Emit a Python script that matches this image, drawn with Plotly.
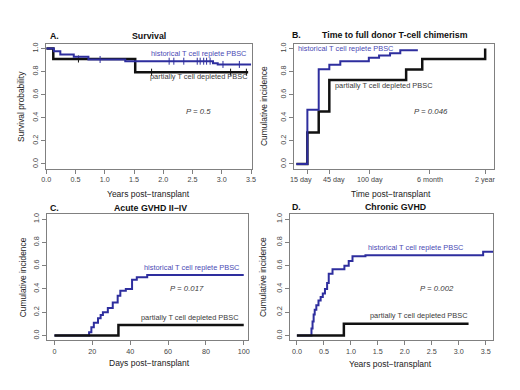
import plotly.graph_objects as go

W, H = 520, 390
FONT = "Liberation Sans, Arial, sans-serif"
BLUE = "#2e2e9e"
BLUE_TXT = "#4a4ab4"
BLACK = "#111111"
GRAY_TXT = "#3a3a3a"
FRAME = "#808080"
TICK_TXT = "#444444"

# ---------------- Data ----------------
# A. Survival (years, survival probability)
a_blue_t = [0, 0.13, 0.24, 0.47, 0.72, 1.35, 2.85, 2.93, 3.5]
a_blue_s = [1.0, 0.977, 0.948, 0.928, 0.905, 0.89, 0.872, 0.862, 0.862]
a_blue_cens = [0.92, 2.1, 2.18, 2.35, 2.58, 2.63, 2.69, 2.74, 2.8, 3.02, 3.3]
a_black_t = [0, 0.12, 1.52, 3.45]
a_black_s = [1.0, 0.909, 0.795, 0.795]
a_black_cens = [0.55, 1.8, 3.15, 3.42]

# B. Time to full donor T-cell chimerism (display days, cumulative incidence)
b_blue_t = [0, 15, 30.5, 45, 60, 99, 113, 128, 142, 166]
b_blue_s = [0, 0.47, 0.82, 0.86, 0.89, 0.92, 0.94, 0.96, 0.985, 0.985]
b_black_t = [0, 15, 30.5, 45, 150, 172, 258]
b_black_s = [0, 0.273, 0.455, 0.727, 0.818, 0.909, 1.0]
b_tickvals = [15, 45, 100, 182.5, 258]
b_ticktext = ["15 day", "45 day", "100 day", "6 month", "2 year"]
b_label_shift = [-6, 5, 0, 0, 0]

# C. Acute GVHD II-IV (days, cumulative incidence)
c_blue_t = [0, 18.3, 19.5, 20.8, 23, 24.4, 25.6, 28.2, 30.8, 33.4, 34.8, 37.7, 41.0, 43.5, 49, 100]
c_blue_s = [0, 0.028, 0.07, 0.11, 0.147, 0.176, 0.2, 0.236, 0.284, 0.341, 0.384, 0.4, 0.478, 0.5, 0.52, 0.52]
c_black_t = [0, 33.8, 100]
c_black_s = [0, 0.091, 0.091]

# D. Chronic GVHD (years, cumulative incidence)
d_blue_t = [0, 0.27, 0.29, 0.31, 0.33, 0.36, 0.40, 0.44, 0.48, 0.52, 0.56, 0.59, 0.66,
            0.88, 0.96, 1.03, 1.27, 3.45, 3.65]
d_blue_s = [0, 0.06, 0.12, 0.18, 0.22, 0.26, 0.30, 0.33, 0.36, 0.40, 0.45, 0.53, 0.57,
            0.60, 0.64, 0.68, 0.69, 0.72, 0.72]
d_black_t = [0, 0.87, 3.18]
d_black_s = [0, 0.1, 0.1]

LAB_BLUE = "historical T cell replete PBSC"
LAB_BLACK = "partially T cell depleted PBSC"


def step_at(ts, ss, t):
    v = ss[0]
    for ti, si in zip(ts, ss):
        if ti <= t:
            v = si
    return v


fig = go.Figure()


def line(t, s, color, width, ax):
    fig.add_trace(go.Scatter(x=t, y=s, mode="lines", line=dict(color=color, width=width, shape="hv"),
                             xaxis="x" + ax, yaxis="y" + ax, showlegend=False, hoverinfo="skip"))


def cens(ts, ss, cts, color, ax):
    fig.add_trace(go.Scatter(x=cts, y=[step_at(ts, ss, c) for c in cts], mode="markers",
                             marker=dict(symbol="line-ns", size=5, line=dict(color=color, width=1)),
                             xaxis="x" + ax, yaxis="y" + ax, showlegend=False, hoverinfo="skip"))


# A
line(a_black_t, a_black_s, BLACK, 2.5, "")
cens(a_black_t, a_black_s, a_black_cens, BLACK, "")
line(a_blue_t, a_blue_s, BLUE, 2, "")
cens(a_blue_t, a_blue_s, a_blue_cens, BLUE, "")
# B
line(b_black_t, b_black_s, BLACK, 2.5, "2")
line(b_blue_t, b_blue_s, BLUE, 2, "2")
# C
line(c_blue_t, c_blue_s, BLUE, 2, "3")
line(c_black_t, c_black_s, BLACK, 2.5, "3")
# D
line(d_blue_t, d_blue_s, BLUE, 2, "4")
line(d_black_t, d_black_s, BLACK, 2.5, "4")


def dom_x(a, b):
    return [a / W, b / W]


def dom_y(top, bot):
    return [1 - bot / H, 1 - top / H]


TICKFONT = dict(family=FONT, size=7.2, color=TICK_TXT)
common = dict(showline=True, mirror=True, linecolor=FRAME, linewidth=1, showgrid=False, zeroline=False,
              ticks="outside", ticklen=4, tickcolor=FRAME, tickwidth=1,
              tickfont=TICKFONT, fixedrange=True)
yticks = dict(tickvals=[0, 0.2, 0.4, 0.6, 0.8, 1.0], ticktext=["0.0", "0.2", "0.4", "0.6", "0.8", "1.0"],
              tickangle=-90, range=[-0.04, 1.04])

yr = [0, 0.5, 1.0, 1.5, 2.0, 2.5, 3.0, 3.5]
yr_txt = ["%.1f" % v for v in yr]

fig.update_layout(
    width=W, height=H, margin=dict(l=0, r=0, t=0, b=0),
    paper_bgcolor="white", plot_bgcolor="white",
    xaxis=dict(domain=dom_x(42, 251), range=[0, 3.51], tickvals=yr, ticktext=yr_txt, anchor="y",
               tickangle=0, **common),
    yaxis=dict(domain=dom_y(43, 168), anchor="x", **yticks, **common),
    xaxis2=dict(domain=dom_x(294, 498), range=[-3.4, 270.6], tickvals=b_tickvals, showticklabels=False,
                anchor="y2", **common),
    yaxis2=dict(domain=dom_y(43, 168), anchor="x2", **yticks, **common),
    xaxis3=dict(domain=dom_x(43, 247), range=[-3.8, 102.1], tickvals=[0, 20, 40, 60, 80, 100], anchor="y3",
                tickangle=0, **common),
    yaxis3=dict(domain=dom_y(214, 340), anchor="x3", **yticks, **common),
    xaxis4=dict(domain=dom_x(290, 497), range=[-0.128, 3.64], tickvals=yr, ticktext=yr_txt, anchor="y4",
                tickangle=0, **common),
    yaxis4=dict(domain=dom_y(214, 340), anchor="x4", **yticks, **common),
)

ann = []


def txt(text, x, y, size, color, anchor="center", angle=0, bold=False):
    if bold:
        text = "<b>" + text + "</b>"
    ann.append(dict(text=text, x=x / W, y=1 - y / H, xref="paper", yref="paper", showarrow=False,
                    xanchor=anchor, yanchor="middle", textangle=angle,
                    font=dict(family=FONT, size=size, color=color)))


# B tick labels (15/45 day nudged apart as in the original)
for v, t, sh in zip(b_tickvals, b_ticktext, b_label_shift):
    ann.append(dict(text=t, x=v, xref="x2", y=1 - 179.2 / H, yref="paper", xshift=sh, showarrow=False,
                    xanchor="center", yanchor="middle", font=TICKFONT))

# Panel titles
txt("A.", 44, 35, 8.8, "#111", anchor="left", bold=True)
txt("Survival", 146.7, 35, 8.8, "#111", bold=True)
txt("B.", 290, 34, 8.8, "#111", anchor="left", bold=True)
txt("Time to full donor T-cell chimerism", 397, 34, 8.8, "#111", bold=True)
txt("C.", 44, 207.3, 8.8, "#111", anchor="left", bold=True)
txt("Acute GVHD II−IV", 148.3, 207.3, 8.8, "#111", bold=True)
txt("D.", 290, 207, 8.8, "#111", anchor="left", bold=True)
txt("Chronic GVHD", 397, 207, 8.8, "#111", bold=True)

# Axis titles
txt("Years post−transplant", 146.5, 193, 8.5, "#222")
txt("Time post−transplant", 393.3, 193, 8.5, "#222")
txt("Days post−transplant", 146.7, 363.3, 8.5, "#222")
txt("Years post−transplant", 392.5, 364, 8.5, "#222")
txt("Survival probability", 17, 105.5, 8.4, "#222", angle=-90)
txt("Cumulative incidence", 263.3, 105.5, 8.4, "#222", angle=-90)
txt("Cumulative incidence", 18.3, 277, 8.4, "#222", angle=-90)
txt("Cumulative incidence", 263.3, 277, 8.4, "#222", angle=-90)

# In-plot labels
txt(LAB_BLUE, 197.5, 53, 7.4, BLUE_TXT)
txt(LAB_BLACK, 197, 76, 7.4, GRAY_TXT)
txt("<i>P = 0.5</i>", 197, 110.7, 7.8, GRAY_TXT)
txt(LAB_BLUE, 347.5, 47.7, 7.4, BLUE_TXT)
txt(LAB_BLACK, 385.5, 85, 7.4, GRAY_TXT)
txt("<i>P = 0.046</i>", 433, 111, 7.8, GRAY_TXT)
txt(LAB_BLUE, 190.5, 266.7, 7.4, BLUE_TXT)
txt("<i>P = 0.017</i>", 185.3, 288.3, 7.8, GRAY_TXT)
txt(LAB_BLACK, 188.3, 317.7, 7.4, GRAY_TXT)
txt(LAB_BLUE, 418, 246.7, 7.4, BLUE_TXT)
txt("<i>P = 0.002</i>", 440, 288.3, 7.8, GRAY_TXT)
txt(LAB_BLACK, 421, 315.7, 7.4, GRAY_TXT)

fig.update_layout(annotations=ann)
fig.write_html("out.html", config={"displayModeBar": False},
               post_script="document.body.style.margin='0';document.body.style.overflow='hidden';")
